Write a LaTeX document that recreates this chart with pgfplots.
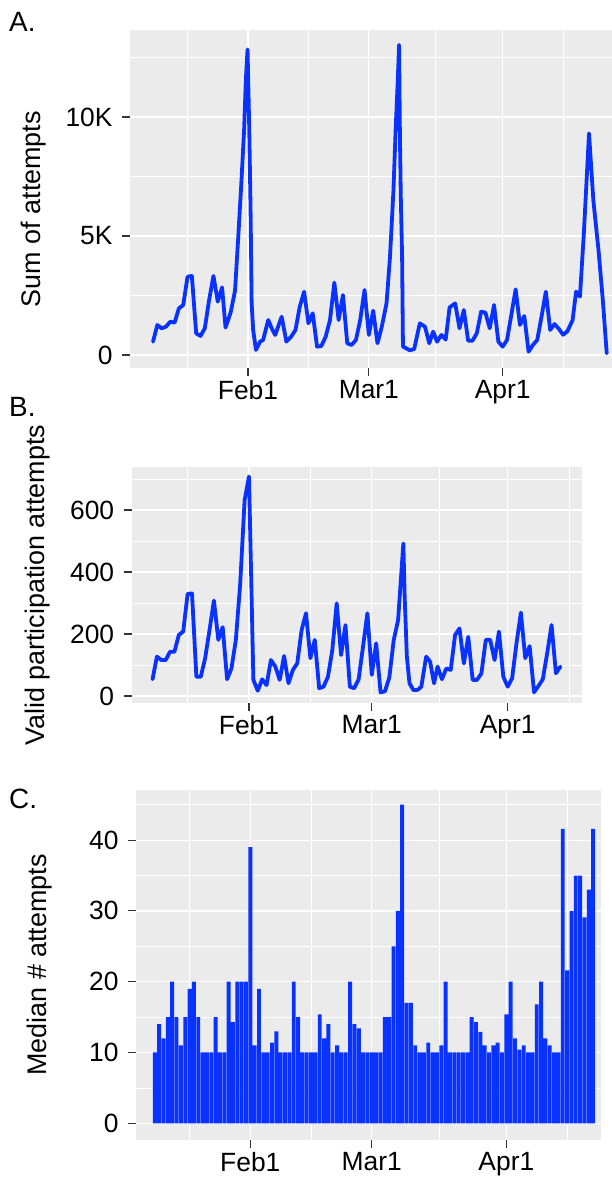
\documentclass[border=0pt]{standalone}
\usepackage{fontspec}
\setmainfont{Liberation Sans}
\usepackage{pgfplots}
\pgfplotsset{compat=1.18}
\definecolor{ggbg}{HTML}{EBEBEB}
\definecolor{ln}{RGB}{10,50,255}
\definecolor{tk}{HTML}{333333}

\pgfplotsset{gg/.style={
  scale only axis, anchor=south west,
  axis background/.style={fill=ggbg},
  axis line style={draw=none},
  xtick pos=left, ytick pos=left,
  tick align=outside,
  major tick length=8bp,
  minor tick length=0pt,
  every tick/.style={tk, line width=1.1bp},
  grid=both,
  major grid style={white, line width=1.2bp},
  minor grid style={white, line width=0.6bp},
  xtick={31,59,90}, xticklabels={Feb1,Mar1,Apr1},
  minor xtick={17,45,74.5,104},
  scaled y ticks=false,
  tick label style={font=\fontsize{26.5}{28}\selectfont, text=black},
  yticklabel style={xshift=-6bp},
  xticklabel style={yshift=-1bp},
  ylabel style={font=\fontsize{27}{29}\selectfont, anchor=center},
  /pgf/number format/assume math mode=true,
}}

\pgfplotstableread{
x y
9 560
10 1260
11 1120
12 1190
13 1400
14 1360
15 1960
16 2100
17 3290
18 3320
19 910
20 800
21 1120
22 2310
23 3320
24 2240
25 2840
25.8 1150
27 1800
28 2700
28.75 4970
29.5 7350
30.1 9450
30.5 11550
30.9 12840
31.3 9450
31.6 6100
31.85 2180
32.2 1050
32.85 210
33.8 560
34.5 630
35.7 1470
36.5 1120
37.3 840
38.8 1610
39.9 560
41 770
42 1050
43 2030
44 2660
45 1330
46 1750
47 350
48 380
49 770
50 1470
51 3040
52 1470
53 2520
54 490
55 420
56 630
57 1470
58 2730
59 840
60 1860
61 490
62 1190
63.1 2180
63.9 4130
64.7 6930
65.2 9450
65.7 11550
66 13030
66.2 9170
66.4 6650
66.7 4130
66.9 350
68.5 200
69.5 250
70.8 1330
72 1190
73 490
73.9 980
74.8 560
75.8 840
76.8 650
77.7 2000
79 2170
80 1120
81 1890
82 600
83 600
84 910
85 1820
86 1780
87 1120
88 2100
89 560
90 350
91 630
92 1680
93 2760
94 1260
95 1640
96 140
97 420
98 630
99 1610
100 2660
101 1050
102 1300
103 1100
104 850
105 1000
106.2 1470
107 2660
107.9 2450
108.8 5110
109.4 7210
110 9310
110.5 7900
111 6500
112.2 4400
113.2 2300
114.1 70
}\dataA

\pgfplotstableread{
x y
9 54
10 127
11 116
12 116
13 143
14 143
15 197
16 208
17 329
18 331
19 62
20 62
21 122
22 213
23 308
24 181
25 222
26 54
27 89
28 181
29 363
30 632
31 708
32 52
33 17
34 54
35 35
36 116
37 95
38 52
39 129
40 41
41 84
42 105
43 213
44 267
45 122
46 181
47 25
48 30
49 62
50 148
51 299
52 132
53 229
54 30
55 25
56 54
57 159
58 267
59 68
60 170
61 12
62 15
63 60
64 180
65 245
66.2 492
66.5 320
67 127
67.6 41
68.5 19
69.5 20
70.3 30
71.4 127
72.3 111
73.2 41
74 95
75 54
76 89
77 84
78 197
79 218
80 105
81 191
82 52
83 52
84 73
85 181
86 181
87 116
88 208
89 62
90 30
91 57
92 170
93 269
94 122
95 161
96 12
97 32
98 54
99 138
100 229
101 73
102 95
}\dataB

\pgfplotstableread{
x y
9 10
10 14
11 12
12 15
13 20
14 15
15 11
16 15
17 19
18 20
19 15
20 10
21 10
22 10
23 15
24 10
25 10
26 20
27 14.3
28 20
29 20
30 20
31 39
32 11
33 19
34 10
35 10
36 11.4
37 13
38 10
39 10
40 10
41 20
42 15
43 10
44 10
45 10
46 10
47 15.4
48 12
49 14
50 10
51 11
52 10
53 10
54 20
55 14
56 13.4
57 10
58 10
59 10
60 10
61 10
62 15
63 15
64 25
65 30
66 45
67 17
68 17
69 11
70 10
71 10
72 11.4
73 10
74 10
75 11
76 20
77 10
78 10
79 10
80 10
81 10
82 15
83 14.3
84 12.9
85 11
86 10
87 11
88 11.4
89 10
90 15.4
91 20
92 12
93 10.4
94 11
95 10
96 10
97 16.8
98 20
99 12
100 11
101 10
102 10
103 41.6
104 21.6
105 30
106 35
107 35
108 29.1
109 33
110 41.6
}\dataC

\begin{document}
\begin{tikzpicture}
\useasboundingbox (0,0) rectangle (612bp,1182bp);

% Panel A
\begin{axis}[gg,
  at={(130bp,814bp)}, width=498bp, height=338bp,
  xmin=3.67, xmax=119.03, ymin=-546, ymax=13655,
  ytick={0,5000,10000}, yticklabels={0,5K,10K},
  minor ytick={2500,7500,12500},
  ylabel={Sum of attempts},
  ylabel style={at={(axis description cs:-0.194,0.47)}},
]
\addplot[ln, line width=3.8bp, line join=round, line cap=round] table[x=x,y=y] {\dataA};
\end{axis}

% Panel B
\begin{axis}[gg,
  at={(131.7bp,478.7bp)}, width=450.3bp, height=236bp,
  xmin=4.25, xmax=106.94, ymin=-23.5, ymax=737.7,
  ytick={0,200,400,600},
  minor ytick={100,300,500,700},
  ylabel={Valid participation attempts},
  ylabel style={at={(axis description cs:-0.208,0.5)}},
]
\addplot[ln, line width=3.8bp, line join=round, line cap=round] table[x=x,y=y] {\dataB};
\end{axis}

% Panel C
\begin{axis}[gg,
  at={(136bp,42bp)}, width=464.7bp, height=350bp,
  xmin=4.66, xmax=111.74, ymin=-2.36, ymax=47.08,
  ytick={0,10,20,30,40},
  minor ytick={5,15,25,35,45},
  ylabel={Median \# attempts},
  ylabel style={at={(axis description cs:-0.207,0.5)}},
]
\addplot[ybar, bar width=0.9, fill=ln, draw=none] table[x=x,y=y] {\dataC};
\end{axis}

\node[anchor=north west, inner sep=0pt, font=\fontsize{28}{30}\selectfont] at (9bp,1170bp) {A.};
\node[anchor=north west, inner sep=0pt, font=\fontsize{28}{30}\selectfont] at (9bp,785bp) {B.};
\node[anchor=north west, inner sep=0pt, font=\fontsize{28}{30}\selectfont] at (9bp,393bp) {C.};
\end{tikzpicture}
\end{document}
